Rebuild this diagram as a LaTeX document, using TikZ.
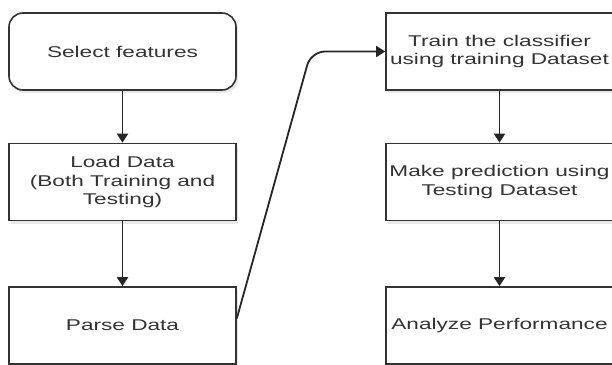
\documentclass[tikz,border=0pt]{standalone}
\usepackage{fontspec}
\setmainfont[FakeStretch=1.45]{Liberation Sans}
\usetikzlibrary{arrows.meta,shadows}
\definecolor{linegray}{HTML}{333333}
\tikzset{
  box/.style={draw=linegray, line width=1.6pt, fill=white, minimum width=227pt, minimum height=77pt,
    align=center, inner sep=0pt, text=linegray,
    font=\fontsize{15.6}{18.5}\selectfont,
    drop shadow={shadow xshift=2pt, shadow yshift=-3pt, opacity=0.18}},
  rbox/.style={box, rounded corners=14pt},
  flow/.style={draw=black!85, line width=1.8pt, -{Triangle[length=9pt,width=11pt]}},
}
\begin{document}
\begin{tikzpicture}[x=1pt,y=1pt]
\fill[white] (0,0) rectangle (612,-364);
\useasboundingbox (0,0) rectangle (612,-364);
\clip (0,0) rectangle (612,-364);
\node[rbox] (sel) at (122.5,-51.5) {Select features};
\node[box] (load) at (122.5,-182) {Load Data\\(Both Training and\\Testing)};
\node[box] (parse) at (122.5,-325.5) {Parse Data};
\node[box] (train) at (499.5,-51.5) {Train the classifier\\using training Dataset};
\node[box] (pred) at (499.5,-182) {Make prediction using\\Testing Dataset};
\node[box] (anal) at (499.5,-325.5) {Analyze Performance};
\coordinate (bend) at (311,-51.5);
\draw[flow] (sel) -- (load);
\draw[flow] (load) -- (parse);
\draw[flow] (train) -- (pred);
\draw[flow] (pred) -- (anal);
\draw[flow, rounded corners=14pt] ([yshift=7pt]parse.east) -- (bend) -- (train.west);
\end{tikzpicture}
\end{document}
